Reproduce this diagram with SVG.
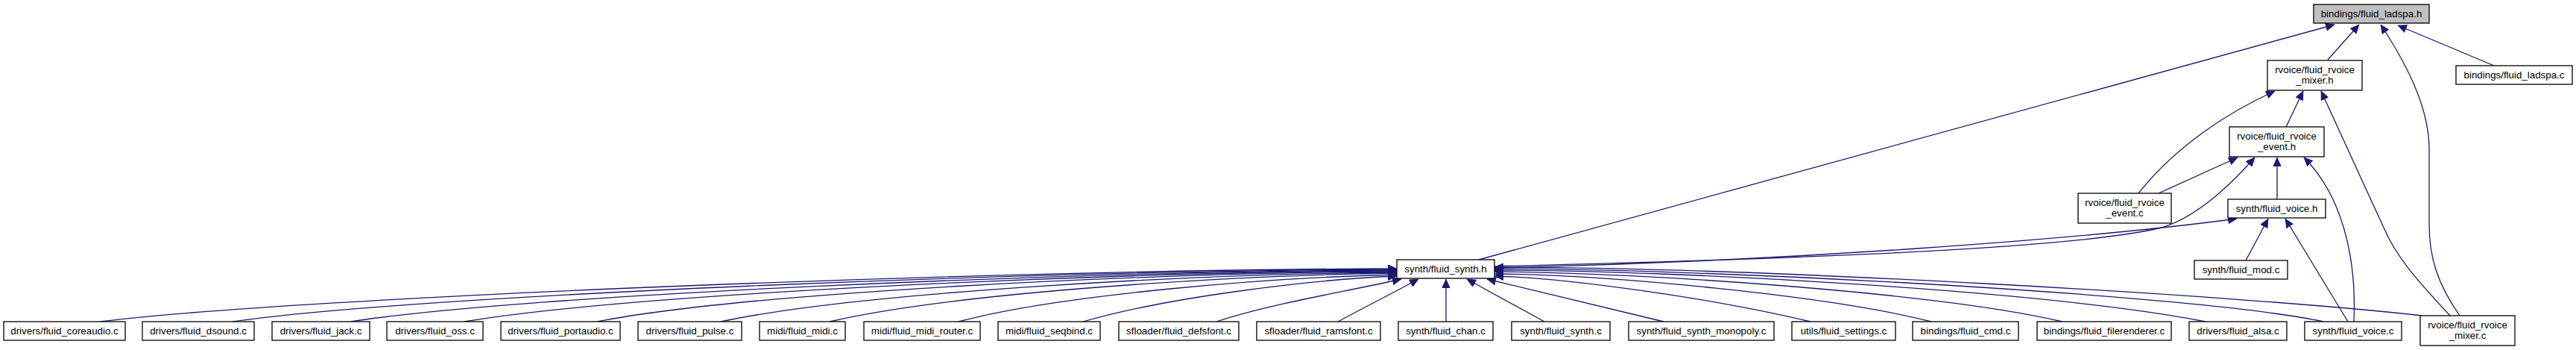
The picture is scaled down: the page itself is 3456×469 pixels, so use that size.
<svg xmlns="http://www.w3.org/2000/svg" width="3456" height="469" viewBox="0 0 3456 469">
<style>
.n rect{fill:#fff;stroke:#000;stroke-width:1.3}
.n.top rect{fill:#bfbfbf}
.n text{font-family:"Liberation Sans",Arial,sans-serif;font-size:13.33px;fill:#000;text-anchor:middle}
.e path{fill:none;stroke:#191970;stroke-width:1.3;marker-end:url(#ah)}
</style>
<defs>
<marker id="ah" viewBox="0 0 12 11" refX="12" refY="5.5" markerWidth="12" markerHeight="11" markerUnits="userSpaceOnUse" orient="auto">
<path d="M0.5,0.5 L11.5,5.5 L0.5,10.5 z" fill="#191970" stroke="#191970" stroke-width="1"/>
</marker>
</defs>
<rect width="3456" height="469" fill="#fff"/>
<g id="edges" class="e">
<path d="M1984,348 L3132,33"/>
<path d="M3123,80 L3165,33"/>
<path d="M3346,88 L3217,34"/>
<path d="M3300,423 C3270,380 3259,345 3259,300 L3259,200 C3259,150 3235,95 3194,33"/>
<path d="M2869,259 C2920,195 2990,150 3052,122"/>
<path d="M3067,170 L3090,122"/>
<path d="M3287,423 C3245,378 3215,345 3198,305 L3114,122"/>
<path d="M2896,259 L3002,211"/>
<path d="M2005,357 C2400,347 2780,334 2900,305 C2950,290 2995,245 3025,211"/>
<path d="M3055,267 L3055,211"/>
<path d="M3158,431 C3162,340 3140,260 3091,211"/>
<path d="M2005,359 C2400,350 2800,320 3001,293"/>
<path d="M3013,349 L3043,293"/>
<path d="M3150,431 L3066,293"/>
<path d="M134,431 C400,398 1350,361 1874,360"/>
<path d="M312,431 C550,396 1400,362 1874,361"/>
<path d="M471,431 C700,395 1450,363 1874,362"/>
<path d="M623,431 C850,393 1500,364 1874,363"/>
<path d="M801,431 C1000,392 1550,365 1874,364"/>
<path d="M967,431 C1150,392 1600,367 1874,365"/>
<path d="M1113,431 C1280,392 1650,369 1874,366"/>
<path d="M1286,431 C1420,395 1700,372 1874,368"/>
<path d="M1453,431 C1560,400 1750,375 1874,370"/>
<path d="M1632,431 C1700,408 1800,392 1880,374"/>
<path d="M1795,431 C1830,412 1870,392 1903,374"/>
<path d="M1940,431 L1940,374"/>
<path d="M2072,431 L1968,374"/>
<path d="M2232,431 L1995,374"/>
<path d="M2429,431 C2300,400 2100,372 2005,370"/>
<path d="M2591,431 C2450,395 2150,368 2005,367"/>
<path d="M2767,431 C2600,392 2200,365 2005,364"/>
<path d="M2959,431 C2750,390 2250,362 2005,362"/>
<path d="M3117,431 C2950,395 2300,360 2005,360"/>
<path d="M3250,423 C3000,395 2350,358 2005,358"/>
</g>
<g id="n_top" class="n top"><rect x="3104" y="6" width="155" height="25"/><text x="3181.5" y="22.5">bindings/fluid_ladspa.h</text></g>
<g id="n_mixer_h" class="n"><rect x="3042" y="81" width="127" height="40"/><text x="3105.5" y="97.5">rvoice/fluid_rvoice</text><text x="3105.5" y="112">_mixer.h</text></g>
<g id="n_ladspa_c" class="n"><rect x="3295" y="88" width="156" height="25"/><text x="3373" y="104.5">bindings/fluid_ladspa.c</text></g>
<g id="n_event_h" class="n"><rect x="2991" y="170" width="127" height="40"/><text x="3054.5" y="186.5">rvoice/fluid_rvoice</text><text x="3054.5" y="201">_event.h</text></g>
<g id="n_event_c" class="n"><rect x="2788" y="259" width="125" height="40"/><text x="2850.5" y="275.5">rvoice/fluid_rvoice</text><text x="2850.5" y="290">_event.c</text></g>
<g id="n_voice_h" class="n"><rect x="2989" y="267" width="131" height="25"/><text x="3054.5" y="283.5">synth/fluid_voice.h</text></g>
<g id="n_synth_h" class="n"><rect x="1874" y="348" width="131" height="25"/><text x="1939.5" y="364.5">synth/fluid_synth.h</text></g>
<g id="n_mod_c" class="n"><rect x="2944" y="349" width="125" height="25"/><text x="3006.5" y="365.5">synth/fluid_mod.c</text></g>
<g id="n_coreaudio" class="n"><rect x="5" y="431" width="163" height="25"/><text x="86.5" y="447.5">drivers/fluid_coreaudio.c</text></g>
<g id="n_dsound" class="n"><rect x="191" y="431" width="150" height="25"/><text x="266" y="447.5">drivers/fluid_dsound.c</text></g>
<g id="n_jack" class="n"><rect x="365" y="431" width="131" height="25"/><text x="430.5" y="447.5">drivers/fluid_jack.c</text></g>
<g id="n_oss" class="n"><rect x="519" y="431" width="129" height="25"/><text x="583.5" y="447.5">drivers/fluid_oss.c</text></g>
<g id="n_portaudio" class="n"><rect x="672" y="431" width="160" height="25"/><text x="752" y="447.5">drivers/fluid_portaudio.c</text></g>
<g id="n_pulse" class="n"><rect x="856" y="431" width="139" height="25"/><text x="925.5" y="447.5">drivers/fluid_pulse.c</text></g>
<g id="n_midi" class="n"><rect x="1019" y="431" width="115" height="25"/><text x="1076.5" y="447.5">midi/fluid_midi.c</text></g>
<g id="n_router" class="n"><rect x="1159" y="431" width="156" height="25"/><text x="1237" y="447.5">midi/fluid_midi_router.c</text></g>
<g id="n_seqbind" class="n"><rect x="1339" y="431" width="137" height="25"/><text x="1407.5" y="447.5">midi/fluid_seqbind.c</text></g>
<g id="n_defsfont" class="n"><rect x="1501" y="431" width="161" height="25"/><text x="1581.5" y="447.5">sfloader/fluid_defsfont.c</text></g>
<g id="n_ramsfont" class="n"><rect x="1686" y="431" width="166" height="25"/><text x="1769" y="447.5">sfloader/fluid_ramsfont.c</text></g>
<g id="n_chan" class="n"><rect x="1876" y="431" width="127" height="25"/><text x="1939.5" y="447.5">synth/fluid_chan.c</text></g>
<g id="n_synth_c" class="n"><rect x="2028" y="431" width="132" height="25"/><text x="2094" y="447.5">synth/fluid_synth.c</text></g>
<g id="n_monopoly" class="n"><rect x="2185" y="431" width="195" height="25"/><text x="2282.5" y="447.5">synth/fluid_synth_monopoly.c</text></g>
<g id="n_settings" class="n"><rect x="2404" y="431" width="139" height="25"/><text x="2473.5" y="447.5">utils/fluid_settings.c</text></g>
<g id="n_cmd" class="n"><rect x="2566" y="431" width="142" height="25"/><text x="2637" y="447.5">bindings/fluid_cmd.c</text></g>
<g id="n_filerenderer" class="n"><rect x="2733" y="431" width="180" height="25"/><text x="2823" y="447.5">bindings/fluid_filerenderer.c</text></g>
<g id="n_alsa" class="n"><rect x="2937" y="431" width="131" height="25"/><text x="3002.5" y="447.5">drivers/fluid_alsa.c</text></g>
<g id="n_voice_c" class="n"><rect x="3092" y="431" width="130" height="25"/><text x="3157" y="447.5">synth/fluid_voice.c</text></g>
<g id="n_mixer_c" class="n"><rect x="3247" y="423" width="127" height="40"/><text x="3310.5" y="439.5">rvoice/fluid_rvoice</text><text x="3310.5" y="454">_mixer.c</text></g>
</svg>
